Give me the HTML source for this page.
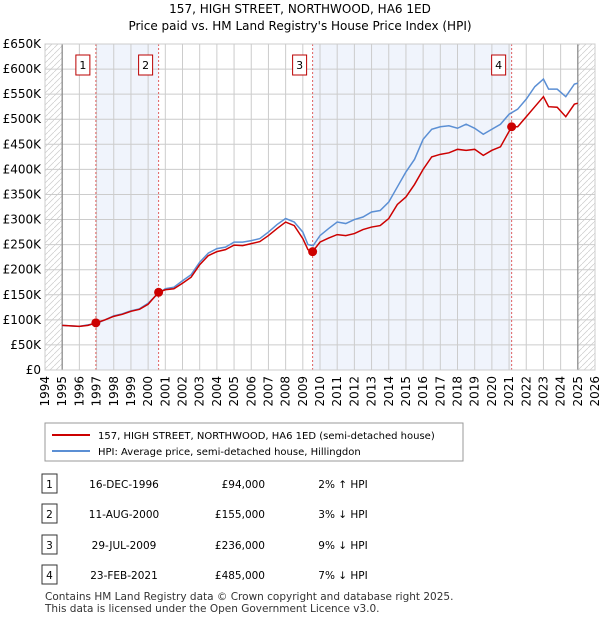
<!DOCTYPE html>
<html><head><meta charset="utf-8"><style>
body{margin:0;background:#fff;font-family:"Liberation Sans","DejaVu Sans",sans-serif;}
svg text{font-family:"DejaVu Sans","Liberation Sans",sans-serif;}
</style></head><body>
<svg id="c" width="600" height="620" xmlns="http://www.w3.org/2000/svg">
<defs><pattern id="h" width="6" height="6" patternUnits="userSpaceOnUse"><path d="M0,6 L6,0" stroke="#ccc" stroke-width="0.7"/></pattern></defs>
<text x="300" y="13" font-size="12" text-anchor="middle">157, HIGH STREET, NORTHWOOD, HA6 1ED</text>
<text x="300" y="30" font-size="12" text-anchor="middle">Price paid vs. HM Land Registry's House Price Index (HPI)</text>
<g id="plot"></g>
<rect x="45" y="423" width="418" height="38" fill="#fff" stroke="#999"/>
<line x1="52" y1="435" x2="90" y2="435" stroke="#cc0000" stroke-width="2"/>
<text x="98" y="439" font-size="10">157, HIGH STREET, NORTHWOOD, HA6 1ED (semi-detached house)</text>
<line x1="52" y1="451" x2="90" y2="451" stroke="#5b8fd4" stroke-width="2"/>
<text x="98" y="455" font-size="10">HPI: Average price, semi-detached house, Hillingdon</text>
<g id="tbl"></g>
<text x="45" y="600" font-size="10.5" fill="#333">Contains HM Land Registry data © Crown copyright and database right 2025.</text>
<text x="45" y="612" font-size="10.5" fill="#333">This data is licensed under the Open Government Licence v3.0.</text>
</svg>
<script>
const hpiYears=[1995,1995.5,1996,1996.5,1997,1997.5,1998,1998.5,1999,1999.5,2000,2000.5,2001,2001.5,2002,2002.5,2003,2003.5,2004,2004.5,2005,2005.5,2006,2006.5,2007,2007.5,2008,2008.5,2009,2009.3,2009.6,2010,2010.5,2011,2011.5,2012,2012.5,2013,2013.5,2014,2014.5,2015,2015.5,2016,2016.5,2017,2017.5,2018,2018.5,2019,2019.5,2020,2020.5,2021,2021.5,2022,2022.5,2023,2023.3,2023.8,2024.3,2024.8,2025];
const hpiValues=[89,88,87,90,93,100,108,112,118,122,133,150,162,165,178,190,215,233,242,245,255,255,258,262,275,290,302,295,275,250,248,268,282,295,292,300,305,315,318,335,365,395,420,460,480,485,487,482,490,482,470,480,490,510,520,540,565,580,560,560,545,570,572];
const priceYears=[1995,1995.5,1996,1996.5,1996.96,1997.5,1998,1998.5,1999,1999.5,2000,2000.61,2001,2001.5,2002,2002.5,2003,2003.5,2004,2004.5,2005,2005.5,2006,2006.5,2007,2007.5,2008,2008.5,2009,2009.3,2009.57,2010,2010.5,2011,2011.5,2012,2012.5,2013,2013.5,2014,2014.5,2015,2015.5,2016,2016.5,2017,2017.5,2018,2018.5,2019,2019.5,2020,2020.5,2021.15,2021.5,2022,2022.5,2023,2023.3,2023.8,2024.3,2024.8,2025];
const priceValues=[89,88,87,89,94,100,107,111,117,121,131,155,160,162,173,185,210,228,236,240,249,248,252,256,268,282,295,288,262,240,236,255,263,270,268,272,280,285,288,302,330,345,370,400,425,430,433,440,438,440,428,438,445,485,485,505,525,545,525,524,505,530,532];
const saleLabels=["1","2","3","4"];
const saleDates=["16-DEC-1996","11-AUG-2000","29-JUL-2009","23-FEB-2021"];
const saleYears=[1996.96,2000.61,2009.57,2021.15];
const salePrices=[94000,155000,236000,485000];
const saleDiffs=["2% \u2191 HPI","3% \u2193 HPI","9% \u2193 HPI","7% \u2193 HPI"];
const yTicks=[0,50,100,150,200,250,300,350,400,450,500,550,600,650];
const xTicks=[1994,1995,1996,1997,1998,1999,2000,2001,2002,2003,2004,2005,2006,2007,2008,2009,2010,2011,2012,2013,2014,2015,2016,2017,2018,2019,2020,2021,2022,2023,2024,2025,2026];

const X0=45,X1=595,Y0=370,Y1=44;
const xs=t=>X0+(t-1994)/32*(X1-X0);
const ys=v=>Y0-v/650*(Y0-Y1);
const NS="http://www.w3.org/2000/svg";
const g=document.getElementById('plot');
function mk(p,tag,a){const e=document.createElementNS(NS,tag);for(const k in a)e.setAttribute(k,a[k]);p.appendChild(e);return e;}
let r;
r=mk(g,'rect',{x:xs(1994),y:Y1,width:xs(1995)-xs(1994),height:Y0-Y1,fill:'url(#h)'});


r=mk(g,'rect',{x:xs(2025),y:Y1,width:xs(2026)-xs(2025),height:Y0-Y1,fill:'url(#h)'});


r=mk(g,'rect',{x:xs(saleYears[0]),y:Y1,width:xs(saleYears[1])-xs(saleYears[0]),height:Y0-Y1,fill:'#f0f4fc'});


r=mk(g,'rect',{x:xs(saleYears[2]),y:Y1,width:xs(saleYears[3])-xs(saleYears[2]),height:Y0-Y1,fill:'#f0f4fc'});


yTicks.forEach(v=>{
 const l=mk(g,'line',{x1:X0,x2:X1,y1:ys(v*1000/1000),y2:ys(v),stroke:'#ccc'});
 
 
 const t=mk(g,'text',{x:41,y:ys(v)+4,'font-size':12,'text-anchor':'end'});
 t.textContent=v===0?'£0':'£'+v+'K';
 
 
});
xTicks.forEach(y=>{
 const l=mk(g,'line',{x1:xs(y),x2:xs(y),y1:Y1,y2:Y0,stroke:'#ccc'});
 
 
 const t=mk(g,'text',{x:0,y:0,'font-size':12,'text-anchor':'end',transform:`translate(${xs(y)+4},${Y0+6}) rotate(-90)`});
 t.textContent=y;
 
 
});
[1995,2025].forEach(y=>{const l=mk(g,'line',{x1:xs(y),x2:xs(y),y1:Y1,y2:Y0,stroke:'#888','stroke-width':1.2});
 
 });
saleYears.forEach((y,i)=>{
 const l=mk(g,'line',{x1:xs(y),x2:xs(y),y1:Y1,y2:Y0,stroke:'#e06060','stroke-dasharray':'2,2'});
 
 
});
const hp=mk(g,'polyline',{points:hpiYears.map((t,i)=>xs(t)+','+ys(hpiValues[i])).join(' '),fill:'none',stroke:'#5b8fd4','stroke-width':1.5});


const pp=mk(g,'polyline',{points:priceYears.map((t,i)=>xs(t)+','+ys(priceValues[i])).join(' '),fill:'none',stroke:'#cc0000','stroke-width':1.5});


saleYears.forEach((y,i)=>{
 const c=mk(g,'circle',{cx:xs(y),cy:ys(salePrices[i]/1000),r:4.5,fill:'#cc0000'});
 
 
 const b=mk(g,'rect',{x:xs(y)-20,y:55,width:14,height:20,fill:'#fff',stroke:'#b00'});
 
 
 const t=mk(g,'text',{x:xs(y)-13,y:69,'font-size':11,'text-anchor':'middle'});
 t.textContent=saleLabels[i];
 
 
});
mk(g,'rect',{x:X0,y:Y1,width:X1-X0,height:Y0-Y1,fill:'none',stroke:'#ccc'});
const tb=document.getElementById('tbl');
const rowY=[484,514,545,575];
saleLabels.forEach((s,i)=>{
 const y=rowY[i];
 const b=mk(tb,'rect',{x:42,y:y-10,width:15,height:19,fill:'#fff',stroke:'#333'});
 
 
 const cells=[[49.5,s,'middle'],[124,saleDates[i],'middle'],[265,'£'+salePrices[i].toLocaleString('en-GB'),'end'],[343,saleDiffs[i],'middle']];
 cells.forEach(cl=>{const t=mk(tb,'text',{x:cl[0],y:y+4,'font-size':10.5,'text-anchor':cl[2]});t.textContent=cl[1];
 
 });
});
</script>
</body></html>
